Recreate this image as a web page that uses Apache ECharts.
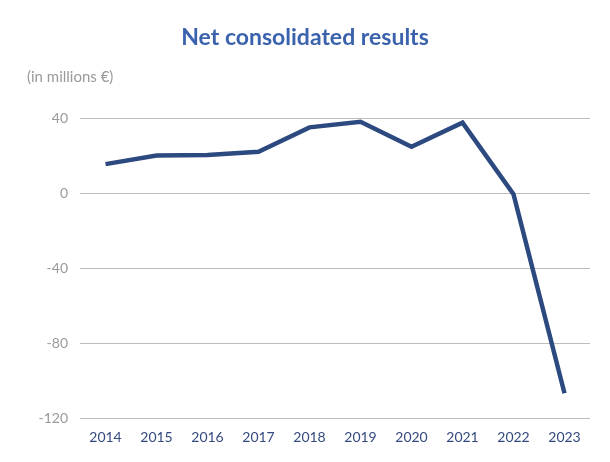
<!DOCTYPE html>
<html>
<head>
<meta charset="utf-8">
<script src="https://cdn.jsdelivr.net/npm/echarts@6/dist/echarts.min.js"></script>
<style>
  html, body { margin: 0; padding: 0; background: #fff; }
  #chart { width: 610px; height: 462px; }
</style>
</head>
<body>
<div id="chart"></div>
<script>
// Net consolidated results, in millions of euros
const years = ['2014', '2015', '2016', '2017', '2018', '2019', '2020', '2021', '2022', '2023'];
const netResults = [15.4, 20, 20.3, 22, 35, 38, 24.7, 37.5, -0.7, -106.8];
const yTicks = [-120, -80, -40, 0, 40];

const chart = echarts.init(document.getElementById('chart'), null, { renderer: 'canvas' });

chart.setOption({
  animation: false,
  backgroundColor: '#ffffff',
  title: [
    {
      text: 'Net consolidated results',
      left: 'center',
      top: 21,
      textStyle: { fontFamily: 'Lato', fontSize: 23, fontWeight: 'bold', color: '#3b63ad' }
    },
    {
      text: '(in millions €)',
      left: 22,
      top: 65,
      textStyle: { fontFamily: 'Lato', fontSize: 15, fontWeight: 'normal', color: '#9a9a9a' }
    }
  ],
  grid: { left: 80, right: 20, top: 118, bottom: 44 },
  xAxis: {
    type: 'category',
    data: years,
    boundaryGap: true,
    axisLine: { show: false },
    axisTick: { show: false },
    axisLabel: { margin: 12, fontFamily: 'Lato', fontSize: 14, color: '#34497f' }
  },
  yAxis: {
    type: 'value',
    min: yTicks[0],
    max: yTicks[yTicks.length - 1],
    interval: 40,
    axisLine: { show: false },
    axisTick: { show: false },
    axisLabel: { margin: 12, fontFamily: 'Lato', fontSize: 14, color: '#9a9a9a' },
    splitLine: { lineStyle: { color: '#bdbdbd', width: 1 } }
  },
  series: [{
    type: 'line',
    data: netResults,
    symbol: 'none',
    lineStyle: { color: '#2c4a80', width: 4.5, join: 'miter' }
  }]
});
</script>
</body>
</html>
